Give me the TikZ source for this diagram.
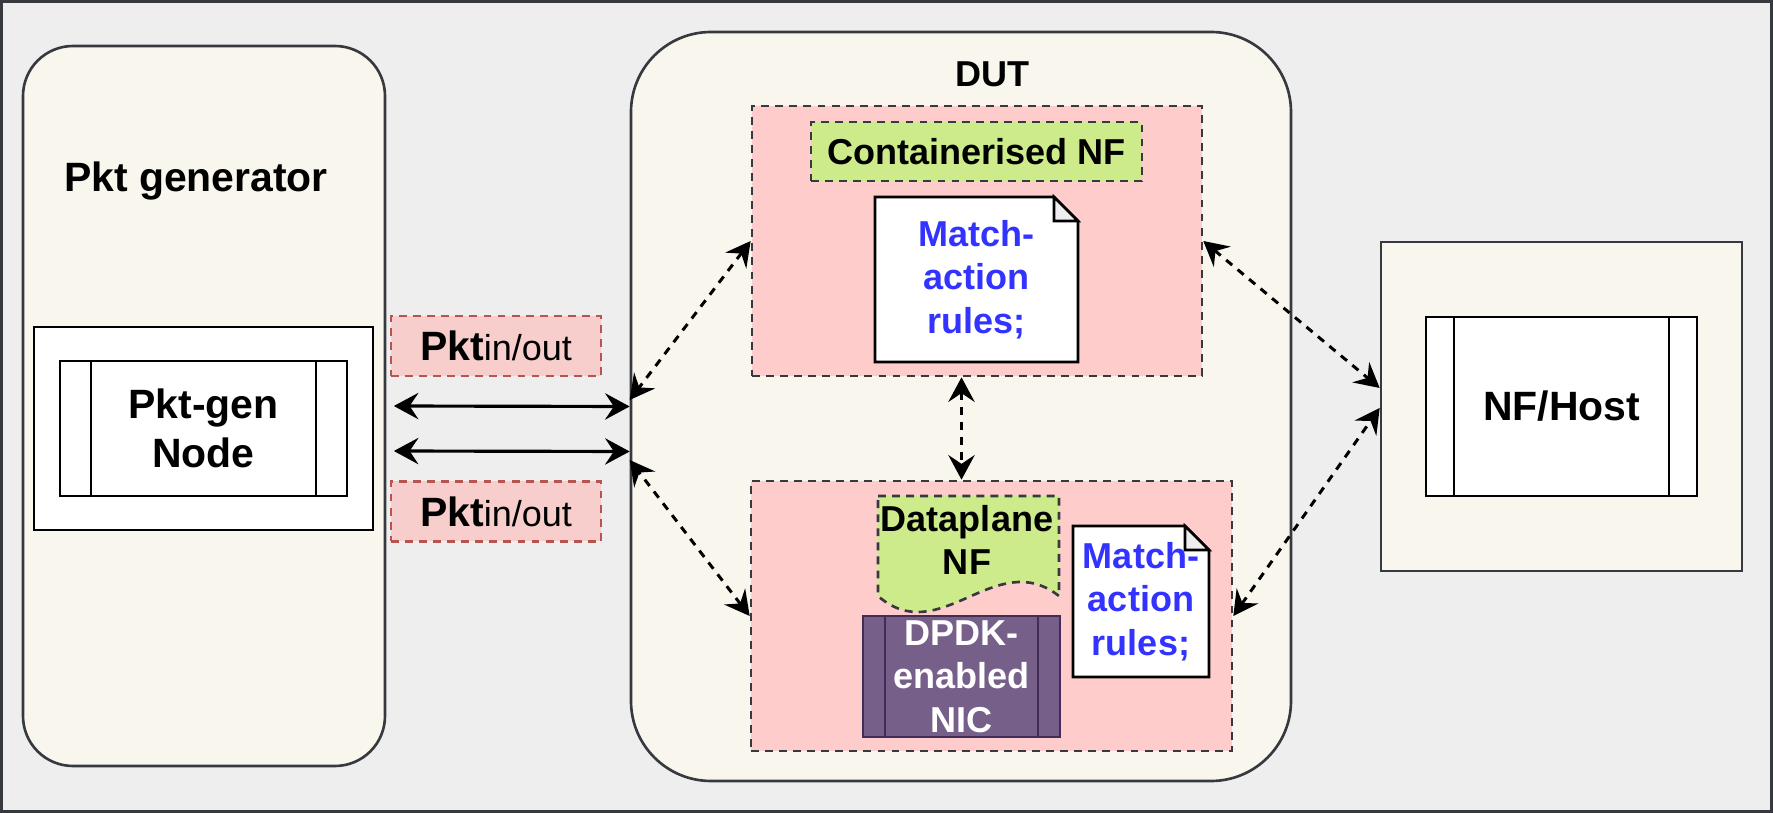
\documentclass[tikz,border=0pt]{standalone}
\usepackage{fontspec}
\setmainfont{Liberation Sans}
\usepackage{tikz}
\usetikzlibrary{
  arrows.meta,
  positioning
}
\definecolor{framegray}{HTML}{36393D}
\definecolor{bggray}{HTML}{EEEEEE}
\definecolor{boxbeige}{HTML}{F9F7ED}
\definecolor{zonepink}{HTML}{FFCCCC}
\definecolor{tagpink}{HTML}{F8CECC}
\definecolor{tagred}{HTML}{B85450}
\definecolor{nfgreen}{HTML}{CDEB8B}
\definecolor{nicpurple}{HTML}{76608A}
\definecolor{nicborder}{HTML}{432D57}
\definecolor{ruleblue}{HTML}{3333FF}
\newcommand{\bigtxt}{\fontsize{23.3}{27.9}\selectfont\bfseries}
\newcommand{\midtxt}{\fontsize{20.5}{24.8}\selectfont\bfseries}
\newcommand{\smalltxt}{\fontsize{20.5}{24.8}\selectfont\mdseries}
% folded corner of a note node
\newcommand{\dogear}[1]{%
  \fill[zonepink] ([xshift=-0.48cm]#1.north east) -- (#1.north east)
    -- ([yshift=-0.48cm]#1.north east) -- cycle;
  \draw[line width=1.5pt] (#1.south west) -- (#1.north west)
    -- ([xshift=-0.48cm]#1.north east) -- ([yshift=-0.48cm]#1.north east)
    -- (#1.south east) -- cycle;
  \filldraw[fill=bggray,line width=1.5pt] ([xshift=-0.48cm]#1.north east)
    -- ([xshift=-0.48cm,yshift=-0.48cm]#1.north east)
    -- ([yshift=-0.48cm]#1.north east) -- cycle;}

\begin{document}
\begin{tikzpicture}[
  zone/.style    ={draw=framegray,fill=boxbeige,line width=1.5pt,inner sep=0pt},
  hostbox/.style ={draw=black,fill=white,line width=1.5pt,inner sep=0pt},
  proc/.style 2 args={draw=#2,line width=1.5pt,inner sep=0pt,align=center,
      path picture={\draw[#2,line width=1.5pt]
        ([xshift=#1]path picture bounding box.north west) -- ([xshift=#1]path picture bounding box.south west)
        ([xshift=-#1]path picture bounding box.north east) -- ([xshift=-#1]path picture bounding box.south east);}},
  pinkzone/.style={draw=framegray,fill=zonepink,line width=1.5pt,dash pattern=on 4.5pt off 3.5pt,inner sep=0pt},
  tag/.style     ={draw=tagred,fill=tagpink,line width=1.5pt,dash pattern=on 4.5pt off 3.5pt,
                   minimum width=4.2cm,minimum height=1.2cm,inner sep=0pt},
  nfbox/.style   ={draw=framegray,fill=nfgreen,line width=1.5pt,dash pattern=on 4.5pt off 3.5pt,
                   inner sep=0pt,font=\midtxt},
  note/.style    ={fill=white,outer sep=0pt,inner sep=0pt,align=center,text=ruleblue,font=\midtxt},
  title/.style   ={inner sep=0pt,font=\bigtxt},
  link/.style    ={{Stealth[length=14pt,width=15pt,inset=5pt]}-{Stealth[length=14pt,width=15pt,inset=5pt]},
                   line width=1.8pt},
  dlink/.style   ={link,line width=1.7pt,dash pattern=on 4.5pt off 4pt},
]
\useasboundingbox (0,0) rectangle (35.46,-16.26);
\draw[draw=framegray,fill=bggray,line width=1.7pt] (0.03,-0.03) rectangle (35.43,-16.23);

% packet generator side
\node[zone,rounded corners=1cm,minimum width=7.24cm,minimum height=14.4cm] (pktgen) at (4.08,-8.12) {};
\node[title] (pktgenlbl) at (3.92,-3.62) {Pkt generator};
\node[hostbox,minimum width=6.78cm,minimum height=4.06cm] (pktwrap) at (4.07,-8.57) {};
\node[proc={0.62cm}{black},fill=white,minimum width=5.74cm,minimum height=2.7cm,font=\bigtxt]
  (pktnode) at (4.07,-8.57) {Pkt-gen\\Node};

\node[tag] (tagin)  at (9.92,-6.92)  {{\bigtxt Pkt}{\smalltxt in/out}};
\node[tag] (tagout) at (9.92,-10.23) {{\bigtxt Pkt}{\smalltxt in/out}};

% device under test
\node[zone,rounded corners=1.6cm,minimum width=13.2cm,minimum height=14.98cm] (dut) at (19.22,-8.13) {};
\node[title,font=\midtxt] (dutlbl) at (19.85,-1.49) {DUT};

\node[pinkzone,minimum width=9cm,minimum height=5.4cm] (cpink) at (19.54,-4.82) {};
\node[nfbox,minimum width=6.62cm,minimum height=1.18cm] (cnf) at (19.53,-3.03) {Containerised NF};
\node[note,minimum width=4.06cm,minimum height=3.3cm] (rulesc) at (19.53,-5.59) {Match-\\action\\rules;};
\dogear{rulesc}

\node[pinkzone,minimum width=9.62cm,minimum height=5.4cm] (dpink) at (19.83,-12.32) {};
\draw[draw=framegray,fill=nfgreen,line width=1.5pt,dash pattern=on 4.5pt off 3.5pt]
  (17.56,-9.92) -- (21.18,-9.92) -- (21.18,-11.92)
  .. controls (19.9,-10.92) and (18.8,-13.0) .. (17.56,-11.92) -- cycle;
\node[title,font=\midtxt,align=center] (dpnf) at (19.34,-10.8) {Dataplane\\NF};
\node[proc={0.44cm}{nicborder},fill=nicpurple,text=white,minimum width=3.94cm,minimum height=2.42cm,
  font=\midtxt] (nic) at (19.23,-13.53) {DPDK-\\enabled\\NIC};
\node[note,minimum width=2.72cm,minimum height=3.02cm] (rulesd) at (22.82,-12.03) {Match-\\action\\rules;};
\dogear{rulesd}

% host side
\node[zone,minimum width=7.22cm,minimum height=6.58cm] (nfhost) at (31.23,-8.13) {};
\node[proc={0.56cm}{black},fill=white,minimum width=5.42cm,minimum height=3.58cm,font=\bigtxt]
  (nfnode) at (31.23,-8.13) {NF/Host};

% links
\draw[link] ([xshift=0.15cm]pktgen.east) -- (dut.west);
\draw[link] ([xshift=0.15cm,yshift=-0.9cm]pktgen.east) -- ([yshift=-0.9cm]dut.west);
\draw[dlink] (cpink.west) -- ([yshift=0.13cm]dut.west);
\draw[dlink] (dpink.west) -- ([yshift=-1.07cm]dut.west);
\draw[dlink] (cpink.south -| nic) -- (dpink.north -| nic);
\draw[dlink] (cpink.east) -- ([yshift=0.37cm]nfhost.west);
\draw[dlink] (dpink.east) -- ([yshift=-0.03cm]nfhost.west);
\end{tikzpicture}
\end{document}
